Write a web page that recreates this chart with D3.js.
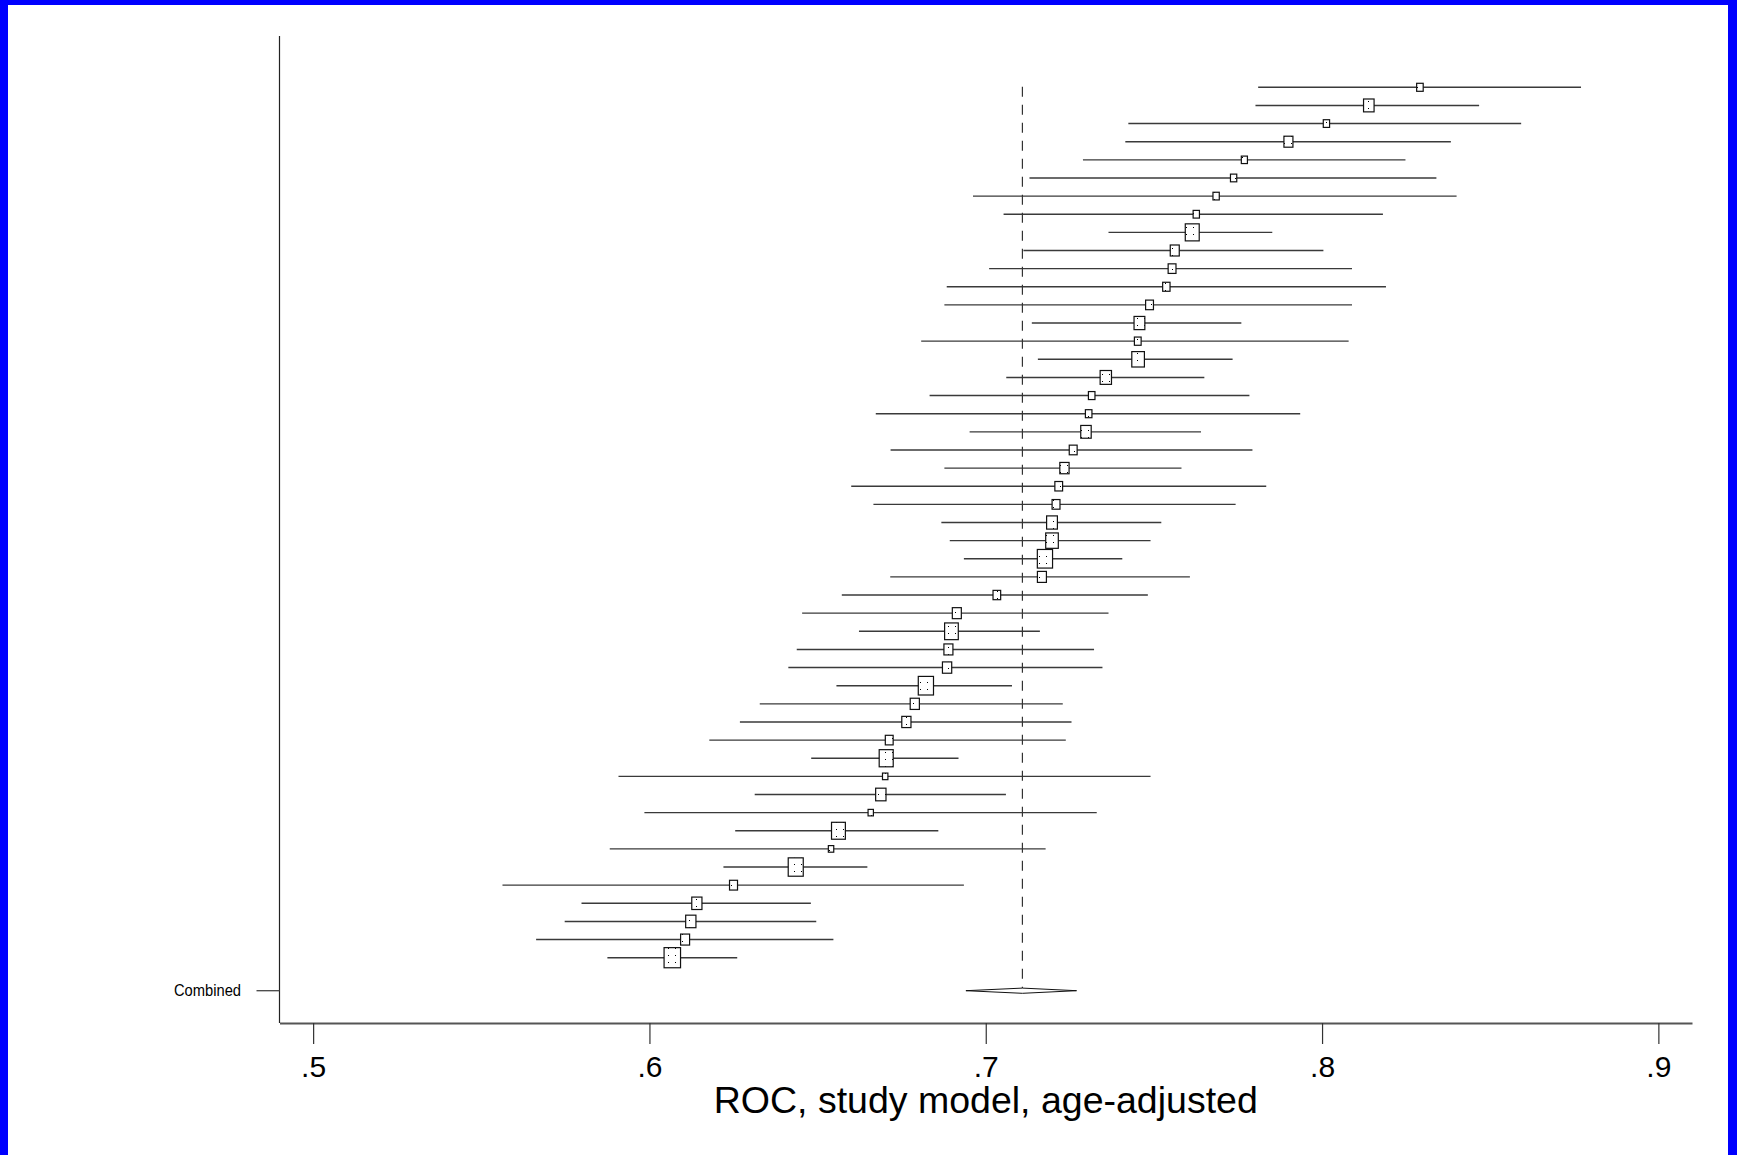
<!DOCTYPE html>
<html>
<head>
<meta charset="utf-8">
<script src="https://cdn.jsdelivr.net/npm/d3@7"></script>
<style>
  html, body { margin: 0; padding: 0; background: #fff; }
  svg { display: block; }
</style>
</head>
<body>
<script>
// ---- Data ----
const studyIndex = d3.range(49);
const estimates = [
  .8291, .8139, .8013, .7900, .7769, .7737, .7685, .7626, .7614, .7562,
  .7554, .7537, .7487, .7457, .7452, .7453, .7357, .7315, .7306, .7298,
  .7260, .7234, .7217, .7209, .7197, .7197, .7176, .7167, .7033, .6914,
  .6898, .6889, .6885, .6822, .6789, .6764, .6713, .6704, .6701, .6688,
  .6658, .6562, .6540, .6435, .6250, .6141, .6123, .6106, .6068
];
const lowerCI = [
  .7810, .7802, .7424, .7415, .7289, .7130, .6962, .7053, .7365, .7112,
  .7010, .6884, .6877, .7137, .6808, .7155, .7061, .6833, .6673, .6952,
  .6717, .6877, .6600, .6666, .6868, .6893, .6935, .6716, .6572, .6454,
  .6623, .6438, .6413, .6556, .6328, .6269, .6178, .6481, .5908, .6313,
  .5985, .6255, .5882, .6220, .5563, .5798, .5748, .5663, .5875
];
const upperCI = [
  .8770, .8467, .8592, .8383, .8248, .8340, .8400, .8181, .7852, .8004,
  .8089, .8190, .8089, .7760, .8079, .7734, .7650, .7784, .7935, .7640,
  .7793, .7582, .7834, .7743, .7522, .7490, .7406, .7607, .7482, .7365,
  .7161, .7322, .7347, .7078, .7229, .7255, .7238, .6919, .7490, .7060,
  .7330, .6859, .7178, .6648, .6935, .6480, .6496, .6547, .6261
];
const weights = [
  53, 137, 49, 100, 46, 49, 49, 49, 240, 100,
  76, 67, 76, 144, 56, 196, 159, 53, 53, 135,
  77, 106, 74, 77, 144, 196, 286, 100, 72, 100,
  231, 100, 106, 286, 104, 104, 76, 243, 36, 132,
  35, 237, 36, 279, 79, 128, 130, 100, 335
];
const combinedLabel = "Combined";
const combinedEstimate = 0.7109;
const combinedLower = 0.6941;
const combinedUpper = 0.7270;
const xTickValues = [0.5, 0.6, 0.7, 0.8, 0.9];
const xAxisTitle = "ROC, study model, age-adjusted";

// ---- Layout ----
const W = 1737, H = 1155;
const plotTop = 36, plotBottom = 1023;
const combinedRow = 49.82;

const svg = d3.select("body").append("svg")
  .attr("width", W).attr("height", H)
  .style("font-family", "'Liberation Sans', Arial, Helvetica, sans-serif");

svg.append("rect").attr("width", W).attr("height", H).attr("fill", "#fff");

// dotted pattern used inside the boxes
const defs = svg.append("defs");
const pat = defs.append("pattern").attr("id", "dots")
  .attr("patternUnits", "userSpaceOnUse").attr("width", 7).attr("height", 7);
pat.append("rect").attr("width", 7).attr("height", 7).attr("fill", "#fff");
pat.append("rect").attr("x", 3).attr("y", 3).attr("width", 1).attr("height", 1).attr("fill", "#000");

const x = d3.scaleLinear().domain([0.49, 0.91]).range([279.5, 1692]);
const y = d3.scaleLinear().domain([0, 48]).range([87.3, 957.7]);
const side = d3.scaleSqrt().domain([0, 335]).range([0, 18.3]);

// CI lines
svg.append("g").selectAll("line").data(studyIndex).join("line")
  .attr("x1", i => x(lowerCI[i])).attr("x2", i => x(upperCI[i]))
  .attr("y1", i => y(i)).attr("y2", i => y(i))
  .attr("stroke", "#3a3a3a").attr("stroke-width", 1.4);

// dashed line at combined estimate
svg.append("line")
  .attr("x1", x(combinedEstimate)).attr("x2", x(combinedEstimate))
  .attr("y1", y(0) - 0.5).attr("y2", y(combinedRow) - 2)
  .attr("stroke", "#333").attr("stroke-width", 1.2)
  .attr("stroke-dasharray", "10,8");

// boxes
svg.append("g").selectAll("rect").data(studyIndex).join("rect")
  .attr("x", i => x(estimates[i]) - side(weights[i]) * 0.45)
  .attr("y", i => y(i) - side(weights[i]) * 0.55)
  .attr("width", i => side(weights[i]) * 0.9)
  .attr("height", i => side(weights[i]) * 1.1)
  .attr("fill", "url(#dots)")
  .attr("stroke", "#111").attr("stroke-width", 1.2);

// combined diamond
const cy = y(combinedRow);
svg.append("path")
  .attr("d", `M${x(combinedLower)},${cy} L${x(combinedEstimate)},${cy - 2.6} L${x(combinedUpper)},${cy} L${x(combinedEstimate)},${cy + 2.6} Z`)
  .attr("fill", "#fff").attr("stroke", "#111").attr("stroke-width", 1);

// left axis line + combined tick + label
svg.append("line")
  .attr("x1", x(0.49)).attr("x2", x(0.49))
  .attr("y1", plotTop).attr("y2", plotBottom)
  .attr("stroke", "#222").attr("stroke-width", 1.2);
svg.append("line")
  .attr("x1", x(0.49) - 23).attr("x2", x(0.49))
  .attr("y1", cy).attr("y2", cy)
  .attr("stroke", "#444").attr("stroke-width", 1.3);
svg.append("text")
  .attr("x", 241).attr("y", cy + 5.5)
  .attr("text-anchor", "end")
  .attr("font-size", 16)
  .attr("textLength", 67).attr("lengthAdjust", "spacingAndGlyphs")
  .attr("fill", "#000")
  .text(combinedLabel);

// bottom axis
const xAxis = d3.axisBottom(x)
  .tickValues(xTickValues)
  .tickSize(21)
  .tickSizeOuter(0)
  .tickPadding(12)
  .tickFormat(d => d3.format(".1f")(d).replace(/^0/, ""));
const gx = svg.append("g").attr("transform", `translate(0,${plotBottom})`).call(xAxis);
gx.select(".domain").attr("stroke", "#555").attr("stroke-width", 2);
gx.selectAll(".tick line").attr("stroke", "#333").attr("stroke-width", 1.2);
gx.selectAll(".tick text")
  .attr("font-size", 30)
  .attr("font-family", "'Liberation Sans', Arial, sans-serif")
  .attr("fill", "#000");

// axis title
svg.append("text")
  .attr("x", (x(0.49) + x(0.91)) / 2).attr("y", 1113)
  .attr("text-anchor", "middle")
  .attr("font-size", 37.5)
  .attr("fill", "#000")
  .text(xAxisTitle);

// blue frame
svg.append("rect").attr("x", 0).attr("y", 0).attr("width", 8).attr("height", H).attr("fill", "#0000ff");
svg.append("rect").attr("x", 0).attr("y", 0).attr("width", W).attr("height", 5).attr("fill", "#0000ff");
svg.append("rect").attr("x", 1728).attr("y", 0).attr("width", 9).attr("height", H).attr("fill", "#0000ff");
</script>
</body>
</html>
